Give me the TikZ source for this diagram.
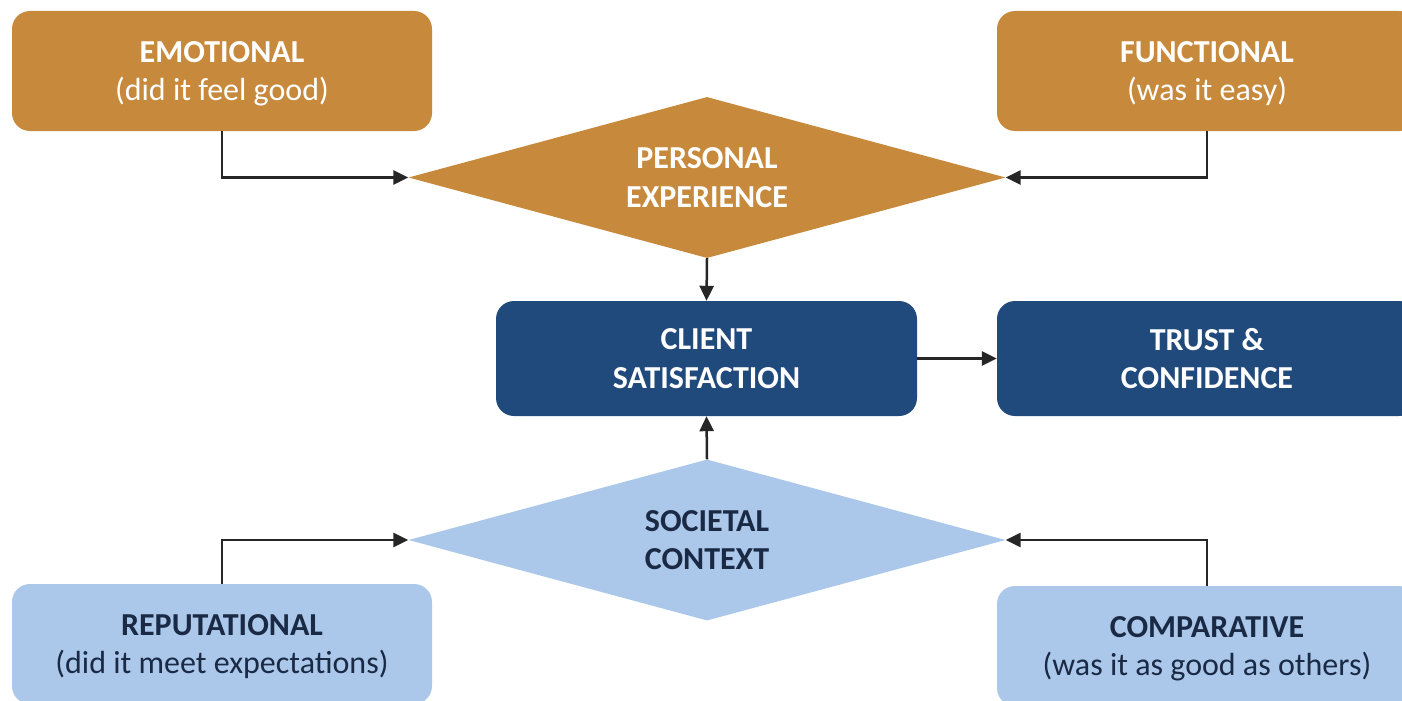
\documentclass[tikz,border=0pt]{standalone}
\usepackage{fontspec}
\setmainfont{Carlito}
\usetikzlibrary{shapes.geometric,arrows.meta}
\definecolor{ochre}{HTML}{C78A3D}
\definecolor{navy}{HTML}{214A7C}
\definecolor{sky}{HTML}{ABC8EA}
\definecolor{ink}{HTML}{1A2A45}
\definecolor{wire}{HTML}{262626}
\tikzset{
  card/.style={rounded corners=18pt, minimum width=420pt, minimum height=120pt, inner sep=0pt, align=center,
    text depth=0pt, font=\fontsize{32}{38.5}\selectfont},
  gem/.style={diamond, aspect=3.7, minimum width=597pt, minimum height=161pt, inner sep=0pt, align=center,
    font=\fontsize{32}{38.5}\selectfont\bfseries},
  wireline/.style={draw=wire, line width=2.5pt, -{Triangle[length=15pt,width=14pt]}},
}
\begin{document}
\begin{tikzpicture}[x=1pt,y=-1pt]
\useasboundingbox (0,0) rectangle (1402,701);
\fill[white] (0,0) rectangle (1402,701);
\clip (0,0) rectangle (1402,701);
\node[card, fill=ochre, text=white] (emo) at (222,71) {\textbf{EMOTIONAL}\\(did it feel good)};
\node[card, fill=ochre, text=white] (fun) at (1207,71) {\textbf{FUNCTIONAL}\\(was it easy)};
\node[gem, fill=ochre, text=white] (pers) at (707,177.5) {PERSONAL\\EXPERIENCE};
\node[card, fill=navy, text=white, minimum width=421pt, minimum height=115pt] (cs) at (706.5,358.5) {\textbf{CLIENT}\\\textbf{SATISFACTION}};
\node[card, fill=navy, text=white, minimum height=115pt] (tc) at (1207,358.5) {\textbf{TRUST \&}\\\textbf{CONFIDENCE}};
\node[gem, fill=sky, text=ink] (soc) at (707,540) {SOCIETAL\\CONTEXT};
\node[card, fill=sky, text=ink] (rep) at (222,644) {\textbf{REPUTATIONAL}\\(did it meet expectations)};
\node[card, fill=sky, text=ink] (com) at (1207,646) {\textbf{COMPARATIVE}\\(was it as good as others)};
\draw[wireline] (emo.south) |- (pers.west);
\draw[wireline] (fun.south) |- (pers.east);
\draw[wireline] (pers.south) -- (cs.north);
\draw[wireline] (cs.east) -- (tc.west);
\draw[wireline] (soc.north) -- (cs.south);
\draw[wireline] (rep.north) |- (soc.west);
\draw[wireline] (com.north) |- (soc.east);
\end{tikzpicture}
\end{document}
